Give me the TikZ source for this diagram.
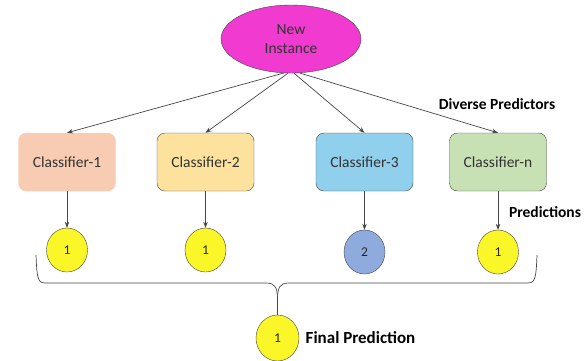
\documentclass[tikz,border=0pt]{standalone}
\usepackage{fontspec}
\setmainfont{Carlito}
\usetikzlibrary{shapes.geometric,arrows.meta}
\definecolor{instpink}{RGB}{240,58,208}
\definecolor{boxsalmon}{RGB}{248,204,178}
\definecolor{boxsand}{RGB}{253,226,157}
\definecolor{boxsky}{RGB}{145,208,236}
\definecolor{boxsage}{RGB}{200,225,180}
\definecolor{voteyellow}{RGB}{250,246,40}
\definecolor{voteblue}{RGB}{143,170,220}
\definecolor{edgegray}{RGB}{70,70,70}
\begin{document}
\begin{tikzpicture}[x=1pt,y=-1pt,
  classbox/.style={draw=edgegray,rounded corners=8pt,minimum width=97pt,minimum height=58pt,font=\fontsize{15.5}{17}\selectfont,text=black!80},
  vote/.style={ellipse,draw=edgegray,fill=voteyellow,minimum width=41pt,minimum height=44pt,inner sep=0pt,font=\fontsize{13.5}{15}\selectfont,text=black!85},
  tag/.style={font=\fontsize{15.5}{17}\selectfont\bfseries},
  arr/.style={draw=edgegray,line width=0.7pt,-{Stealth[length=6pt,width=4.5pt]}}]
\useasboundingbox (0,0) rectangle (588,360);

\node [ellipse,draw=edgegray,fill=instpink,minimum width=140pt,minimum height=68pt,align=center,font=\fontsize{15.5}{19}\selectfont,text=black!80] (inst) at (291,39) {New\\Instance};

\node [classbox,fill=boxsalmon,draw=boxsalmon] (c1) at (67,162) {Classifier-1};
\node [classbox,fill=boxsand] (c2) at (205.5,162) {Classifier-2};
\node [classbox,fill=boxsky] (c3) at (364.5,162) {Classifier-3};
\node [classbox,fill=boxsage] (cn) at (498,162) {Classifier-n};

\node [vote] (v1) at (67,250) {1};
\node [vote] (v2) at (205.5,250) {1};
\node [vote,fill=voteblue] (v3) at (364.5,252) {2};
\node [vote] (vn) at (498,252) {1};
\node [vote,minimum width=43pt,minimum height=46pt] (final) at (277.5,338) {1};

\node [tag] (diverse) at (497,104) {Diverse Predictors};
\node [tag] (preds) at (545,212) {Predictions};
\node [tag,font=\fontsize{17}{19}\selectfont\bfseries,anchor=west,xshift=3pt] (finaltag) at (final.east) {Final Prediction};

\draw [arr] (inst.258) -- (c1.north);
\draw [arr] (inst.265) -- (c2.north);
\draw [arr] (inst.275) -- (c3.north);
\draw [arr] (inst.284) -- (cn.north);

\draw [arr] (c1) -- (v1);
\draw [arr] (c2) -- (v2);
\draw [arr] (c3) -- (v3);
\draw [arr] (cn) -- (vn);

\coordinate (tip) at (277.5,300);
\draw [edgegray,line width=0.7pt] (36,255) .. controls (37,280) and (38,283) .. (46,283) -- (266,283) .. controls (275,283) and (277.5,287) .. (tip);
\draw [edgegray,line width=0.7pt] (537,255) .. controls (536,280) and (535,283) .. (527,283) -- (289,283) .. controls (280,283) and (277.5,287) .. (tip);
\draw [edgegray,line width=0.7pt] (tip) -- (final);
\end{tikzpicture}
\end{document}
